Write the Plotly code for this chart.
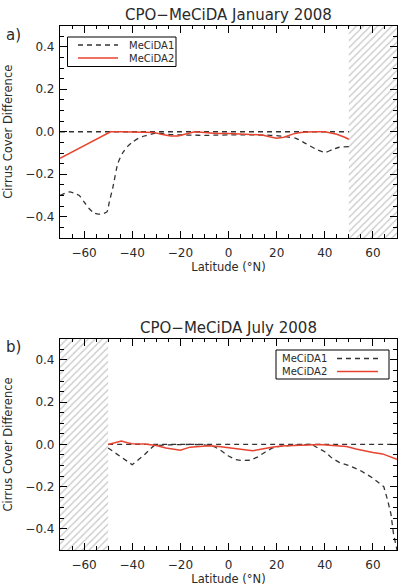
import plotly.graph_objects as go

# ---------------- data ----------------
jan_lat1 = [-70, -68, -66, -64, -62, -60, -58, -56, -54, -52, -50.5, -49.5, -48, -46, -44, -42, -40,
            -37.5, -35, -32, -30, -25, -20, -15, -10, -5, 0, 5, 10, 15, 20, 25, 28, 32, 36, 40, 43, 46, 50]
jan_m1 = [-0.30, -0.29, -0.283, -0.29, -0.30, -0.33, -0.36, -0.382, -0.388, -0.385, -0.377, -0.33, -0.26,
          -0.15, -0.10, -0.07, -0.05, -0.031, -0.02, -0.011, -0.006, -0.012, -0.015, -0.016, -0.017, -0.016,
          -0.015, -0.015, -0.015, -0.016, -0.018, -0.025, -0.031, -0.055, -0.08, -0.097, -0.085, -0.073, -0.07]

jan_lat2 = [-70, -49, -45, -40, -35, -31, -28, -24, -21, -18, -14, -10, -5, 0, 5, 10, 14, 17, 20, 23,
            27, 30, 35, 40, 45, 48, 50]
jan_m2 = [-0.125, 0.0, 0.0, 0.0, 0.0, -0.003, -0.012, -0.02, -0.02, -0.012, 0.0, -0.004, -0.008, -0.008,
          -0.01, -0.012, -0.015, -0.024, -0.03, -0.026, -0.01, -0.004, 0.0, 0.0, -0.012, -0.025, -0.035]

jul_lat1 = [-50, -45, -40, -35, -31, -25, -20, -15, -10, -6, -3, 0, 3, 5, 9, 12, 15, 18, 22, 26, 30,
            34.5, 37, 40, 43, 46, 50, 55, 60, 63, 64.5, 66, 67.5, 68.5, 69.5, 70]
jul_m1 = [-0.017, -0.055, -0.096, -0.05, -0.006, -0.002, 0.0, 0.0, -0.002, -0.01, -0.03, -0.055, -0.072,
          -0.076, -0.075, -0.06, -0.038, -0.018, -0.008, -0.004, -0.002, 0.0, -0.015, -0.035, -0.065,
          -0.085, -0.1, -0.125, -0.16, -0.185, -0.2, -0.26, -0.33, -0.42, -0.48, -0.5]

jul_lat2 = [-50, -47, -44.5, -42, -40, -35, -30, -26, -20, -16, -12, -8, -4, 0, 5, 10, 14, 18, 22, 25,
            30, 34, 38, 42, 46, 49, 53, 57, 60, 64, 67, 70]
jul_m2 = [0.0, 0.008, 0.016, 0.008, 0.003, 0.002, -0.005, -0.017, -0.028, -0.013, -0.01, -0.006, -0.01,
          -0.015, -0.022, -0.03, -0.022, -0.013, -0.008, -0.006, -0.004, 0.0, 0.0, -0.004, -0.007, -0.01,
          -0.022, -0.032, -0.038, -0.045, -0.058, -0.07]

series_names = ["MeCiDA1", "MeCiDA2"]
jan_zero_lat = [-70, 50]
jul_zero_lat = [-50, 70]
zero_val = [0, 0]
jan_nodata = [50, 70]
jul_nodata = [-70, -50]
y_limits = [-0.5, 0.5]

x_ticks = [-60, -40, -20, 0, 20, 40, 60]
y_ticks = [-0.4, -0.2, 0.0, 0.2, 0.4]
y_ticktext = ["\u22120.4", "\u22120.2", "0.0", "0.2", "0.4"]
x_ticktext = ["\u221260", "\u221240", "\u221220", "0", "20", "40", "60"]

RED = "#e8432e"
DASH = "#333333"
FONT = "DejaVu Sans"
TXT = "#2a2a2a"
DASHSTYLE = "5px,4px"

fig = go.Figure()


def hatch(xr, xa, ya):
    fig.add_trace(go.Scatter(
        x=[xr[0], xr[1], xr[1], xr[0], xr[0]],
        y=[y_limits[0], y_limits[0], y_limits[1], y_limits[1], y_limits[0]],
        fill="toself", mode="lines", line=dict(width=0, color="rgba(0,0,0,0)"),
        fillcolor="white",
        fillpattern=dict(shape="/", fgcolor="#8f8f8f", bgcolor="white", size=5, solidity=0.25),
        xaxis=xa, yaxis=ya, showlegend=False, hoverinfo="skip"))


hatch(jan_nodata, "x", "y")
hatch(jul_nodata, "x2", "y2")

# zero reference lines
fig.add_trace(go.Scatter(x=jan_zero_lat, y=zero_val, mode="lines",
                         line=dict(color=DASH, width=1.3, dash=DASHSTYLE),
                         xaxis="x", yaxis="y", showlegend=False, hoverinfo="skip"))
fig.add_trace(go.Scatter(x=jul_zero_lat, y=zero_val, mode="lines",
                         line=dict(color=DASH, width=1.3, dash=DASHSTYLE),
                         xaxis="x2", yaxis="y2", showlegend=False, hoverinfo="skip"))

# January
fig.add_trace(go.Scatter(x=jan_lat1, y=jan_m1, mode="lines", name=series_names[0],
                         line=dict(color=DASH, width=1.3, dash=DASHSTYLE, shape="spline", smoothing=0.6),
                         xaxis="x", yaxis="y", showlegend=False))
fig.add_trace(go.Scatter(x=jan_lat2, y=jan_m2, mode="lines", name=series_names[1],
                         line=dict(color=RED, width=1.5),
                         xaxis="x", yaxis="y", showlegend=False))
# July
fig.add_trace(go.Scatter(x=jul_lat1, y=jul_m1, mode="lines", name=series_names[0],
                         line=dict(color=DASH, width=1.3, dash=DASHSTYLE),
                         xaxis="x2", yaxis="y2", showlegend=False))
fig.add_trace(go.Scatter(x=jul_lat2, y=jul_m2, mode="lines", name=series_names[1],
                         line=dict(color=RED, width=1.5),
                         xaxis="x2", yaxis="y2", showlegend=False))

W, H = 403, 587
x_dom = [60 / W, 397 / W]
y_dom_top = [(H - 238) / H, (H - 25.5) / H]
y_dom_bot = [(H - 550) / H, (H - 338.8) / H]

ax_common = dict(
    showline=True, linecolor="black", linewidth=1.2, mirror="allticks",
    ticks="inside", ticklen=7, tickwidth=1, tickcolor="black",
    showgrid=False, zeroline=False,
    tickfont=dict(family=FONT, size=12, color=TXT),
)
xax = dict(ax_common, range=[-70, 70], domain=x_dom, tickvals=x_ticks, ticktext=x_ticktext,
           minor=dict(ticks="inside", dtick=5, tick0=0, ticklen=3.5, tickcolor="black", showgrid=False),
           title=dict(text="Latitude (\u00b0N)", font=dict(family=FONT, size=11.5, color=TXT), standoff=4),
           ticklabelstandoff=3)
yax = dict(ax_common, range=y_limits, tickvals=y_ticks, ticktext=y_ticktext,
           minor=dict(ticks="inside", dtick=0.05, tick0=0, ticklen=3.5, tickcolor="black", showgrid=False),
           title=dict(text="Cirrus Cover Difference", font=dict(family=FONT, size=11.5, color=TXT), standoff=10),
           ticklabelstandoff=2)

fig.update_layout(
    width=W, height=H, margin=dict(l=0, r=0, t=0, b=0),
    paper_bgcolor="white", plot_bgcolor="white",
    xaxis=dict(xax, anchor="y"),
    yaxis=dict(yax, domain=y_dom_top, anchor="x"),
    xaxis2=dict(xax, anchor="y2"),
    yaxis2=dict(yax, domain=y_dom_bot, anchor="x2"),
    showlegend=False,
)

annots = [
    dict(text="CPO\u2212MeCiDA January 2008", x=228.5 / W, y=(H - 15) / H, size=15),
    dict(text="CPO\u2212MeCiDA July 2008", x=228.5 / W, y=(H - 327.5) / H, size=15),
    dict(text="a)", x=13 / W, y=(H - 35) / H, size=15),
    dict(text="b)", x=13 / W, y=(H - 347) / H, size=15),
]
for a in annots:
    fig.add_annotation(text=a["text"], x=a["x"], y=a["y"], xref="paper", yref="paper",
                       xanchor="center", yanchor="middle", showarrow=False,
                       font=dict(family=FONT, size=a["size"], color=TXT))

styles = [(DASH, DASHSTYLE, 1.3), (RED, "solid", 1.5)]
LEG_FONT = 10
ROW = 1.3 * LEG_FONT  # plotly line spacing for <br>


def legend_box(box, text_x, line_x, first_row_y):
    x0, x1, y0, y1 = box
    fig.add_shape(type="rect", xref="paper", yref="paper", x0=x0 / W, x1=x1 / W,
                  y0=(H - y1) / H, y1=(H - y0) / H,
                  line=dict(color="black", width=1), fillcolor="white", layer="above")
    rows_y = [first_row_y + i * ROW for i in range(len(series_names))]
    fig.add_annotation(text="<br>".join(series_names), x=text_x / W,
                       y=(H - sum(rows_y) / len(rows_y)) / H, xref="paper", yref="paper",
                       xanchor="left", yanchor="middle", align="left", showarrow=False,
                       font=dict(family=FONT, size=LEG_FONT, color=TXT))
    for (col, dash, lw), ypx in zip(styles, rows_y):
        fig.add_shape(type="line", xref="paper", yref="paper", x0=line_x[0] / W, x1=line_x[1] / W,
                      y0=(H - ypx) / H, y1=(H - ypx) / H,
                      line=dict(color=col, width=lw, dash=dash), layer="above")


# January legend: sample line left, text right
legend_box((67.5, 176, 37, 66.5), 127, (78, 118), 45)
# July legend: text left, sample line right
legend_box((276, 389, 350, 379), 280, (337, 378), 358.5)

fig.write_html("out.html")
